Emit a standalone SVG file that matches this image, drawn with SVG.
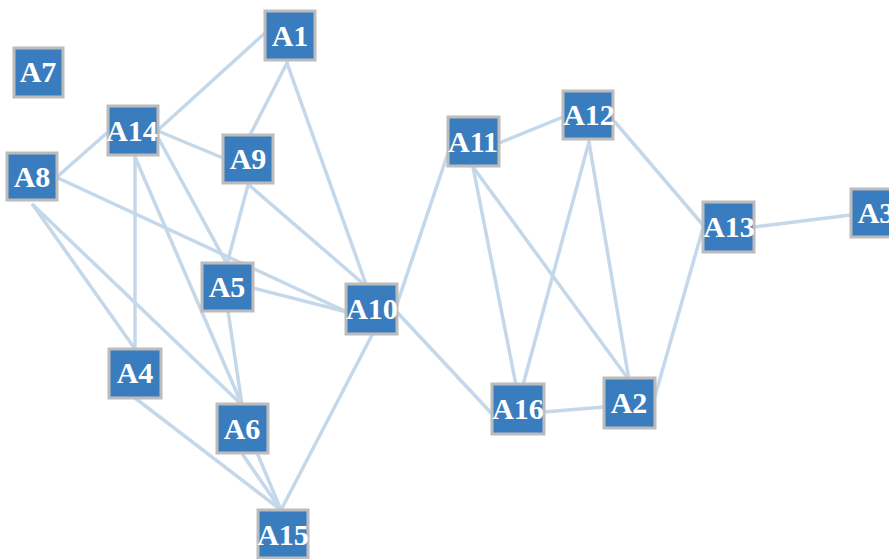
<svg xmlns="http://www.w3.org/2000/svg" width="889" height="559" viewBox="0 0 889 559">
<style>
.e{stroke:#c4d8ea;stroke-width:3.5;fill:none;stroke-linecap:round}
.n rect{fill:#3a7dbf;stroke:#bcbcbc;stroke-width:3}
.n text{fill:#ffffff;font-family:"Liberation Serif","Times New Roman",serif;font-weight:bold;font-size:30px;text-anchor:middle}
</style>
<rect width="889" height="559" fill="#ffffff"/>
<g id="edges">
<line class="e" x1="265" y1="33" x2="158" y2="130"/>
<line class="e" x1="287" y1="63" x2="250" y2="135"/>
<line class="e" x1="287" y1="63" x2="367" y2="287"/>
<line class="e" x1="108" y1="132" x2="58" y2="176"/>
<line class="e" x1="158" y1="131" x2="223" y2="158"/>
<line class="e" x1="135" y1="157" x2="135" y2="349"/>
<line class="e" x1="135" y1="157" x2="242" y2="405"/>
<line class="e" x1="155" y1="132" x2="227" y2="264"/>
<line class="e" x1="58" y1="178" x2="347" y2="312"/>
<line class="e" x1="33" y1="205" x2="135" y2="349"/>
<line class="e" x1="33" y1="205" x2="242" y2="405"/>
<line class="e" x1="248" y1="185" x2="227" y2="264"/>
<line class="e" x1="249" y1="185" x2="367" y2="287"/>
<line class="e" x1="253" y1="288" x2="347" y2="312"/>
<line class="e" x1="228" y1="311" x2="242" y2="405"/>
<line class="e" x1="135" y1="398" x2="281" y2="510"/>
<line class="e" x1="243" y1="455" x2="281" y2="510"/>
<line class="e" x1="258" y1="455" x2="281" y2="510"/>
<line class="e" x1="372" y1="335" x2="281" y2="510"/>
<line class="e" x1="395" y1="310" x2="448" y2="153"/>
<line class="e" x1="395" y1="310" x2="493" y2="415"/>
<line class="e" x1="499" y1="143" x2="563" y2="117"/>
<line class="e" x1="473" y1="167" x2="516" y2="385"/>
<line class="e" x1="473" y1="167" x2="629" y2="380"/>
<line class="e" x1="589" y1="142" x2="523" y2="385"/>
<line class="e" x1="589" y1="142" x2="629" y2="380"/>
<line class="e" x1="615" y1="122" x2="703" y2="225"/>
<line class="e" x1="754" y1="227" x2="851" y2="215"/>
<line class="e" x1="703" y1="228" x2="653" y2="403"/>
<line class="e" x1="544" y1="412" x2="604" y2="407"/>
</g>
<g id="A1" class="n"><rect x="265" y="11" width="50" height="49"/><text x="290" y="46">A1</text></g>
<g id="A7" class="n"><rect x="14" y="48" width="49" height="49"/><text x="38" y="82">A7</text></g>
<g id="A14" class="n"><rect x="108" y="106" width="50" height="49"/><text x="132" y="141">A14</text></g>
<g id="A9" class="n"><rect x="223" y="135" width="50" height="48"/><text x="248" y="169">A9</text></g>
<g id="A8" class="n"><rect x="7" y="153" width="50" height="47"/><text x="32" y="187">A8</text></g>
<g id="A11" class="n"><rect x="448" y="117" width="51" height="49"/><text x="473" y="152">A11</text></g>
<g id="A12" class="n"><rect x="563" y="91" width="50" height="48"/><text x="589" y="125">A12</text></g>
<g id="A13" class="n"><rect x="703" y="202" width="51" height="50"/><text x="729" y="237">A13</text></g>
<g id="A3" class="n"><rect x="851" y="189" width="50" height="48"/><text x="876" y="223">A3</text></g>
<g id="A5" class="n"><rect x="202" y="263" width="51" height="48"/><text x="227" y="297">A5</text></g>
<g id="A10" class="n"><rect x="346" y="284" width="51" height="50"/><text x="372" y="319">A10</text></g>
<g id="A4" class="n"><rect x="109" y="349" width="52" height="49"/><text x="135" y="383">A4</text></g>
<g id="A6" class="n"><rect x="217" y="404" width="51" height="49"/><text x="242" y="439">A6</text></g>
<g id="A15" class="n"><rect x="258" y="510" width="50" height="48"/><text x="283" y="545">A15</text></g>
<g id="A16" class="n"><rect x="492" y="384" width="52" height="50"/><text x="518" y="419">A16</text></g>
<g id="A2" class="n"><rect x="604" y="378" width="51" height="50"/><text x="629" y="413">A2</text></g>
</svg>
